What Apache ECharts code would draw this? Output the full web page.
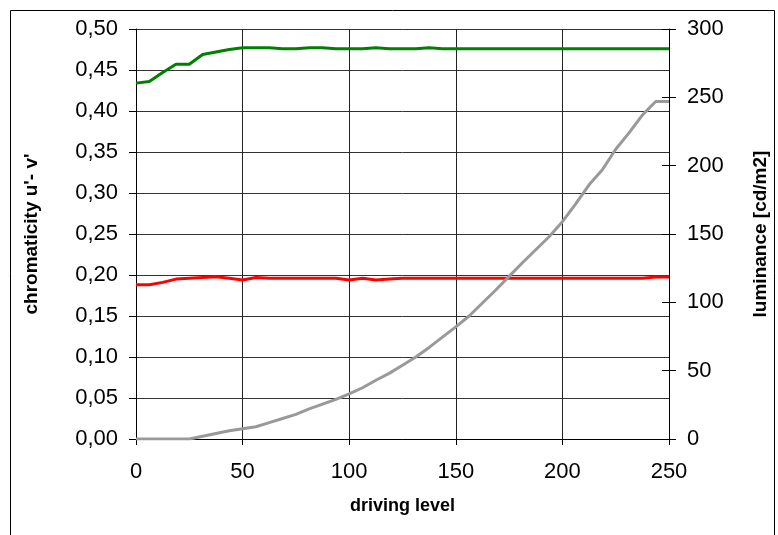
<!DOCTYPE html>
<html>
<head>
<meta charset="utf-8">
<script src="https://cdn.jsdelivr.net/npm/echarts@6/dist/echarts.min.js"></script>
<style>
html,body{margin:0;padding:0;background:#fff;}
#chart{width:778px;height:535px;}
</style>
</head>
<body>
<div id="chart"></div>
<script>
var drivingLevels = [0, 6.25, 12.5, 18.75, 25, 31.25, 37.5, 43.75, 50, 56.25, 62.5, 68.75, 75, 81.25, 87.5, 93.75, 100, 106.25, 112.5, 118.75, 125, 131.25, 137.5, 143.75, 150, 156.25, 162.5, 168.75, 175, 181.25, 187.5, 193.75, 200, 206.25, 212.5, 218.75, 225, 231.25, 237.5, 243.75, 250];
var chromaV = [0.434, 0.436, 0.447, 0.457, 0.457, 0.469, 0.472, 0.475, 0.477, 0.477, 0.477, 0.476, 0.476, 0.477, 0.477, 0.476, 0.476, 0.476, 0.477, 0.476, 0.476, 0.476, 0.477, 0.476, 0.476, 0.476, 0.476, 0.476, 0.476, 0.476, 0.476, 0.476, 0.476, 0.476, 0.476, 0.476, 0.476, 0.476, 0.476, 0.476, 0.476];
var chromaU = [0.188, 0.188, 0.191, 0.195, 0.196, 0.197, 0.198, 0.196, 0.194, 0.197, 0.196, 0.196, 0.196, 0.196, 0.196, 0.196, 0.194, 0.196, 0.194, 0.195, 0.196, 0.196, 0.196, 0.196, 0.196, 0.196, 0.196, 0.196, 0.196, 0.196, 0.196, 0.196, 0.196, 0.196, 0.196, 0.196, 0.196, 0.196, 0.196, 0.1975, 0.1975];
var luminance = [0, 0, 0, 0, 0, 2, 4, 6, 7.5, 9, 12, 15, 18, 22, 25.5, 29, 33, 37.5, 43, 48, 54, 60, 67, 74.5, 82, 90, 99.5, 109, 119, 129, 138.5, 148, 159, 172, 186, 197, 212, 224, 237, 247, 247];

var xTitle = 'driving level';
var yLeftTitle = "chromaticity u'- v'";
var yRightTitle = 'luminance [cd/m2]';

function pair(xs, ys){ return xs.map(function(x,i){ return [x, ys[i]]; }); }

var FONT = 'Liberation Sans, Arial, sans-serif';
var chart = echarts.init(document.getElementById('chart'));
chart.setOption({
  animation: false,
  backgroundColor: '#fff',
  graphic: [{
    type: 'rect', shape: {x: 10.5, y: 10.5, width: 764, height: 540},
    style: {fill: 'none', stroke: '#000', lineWidth: 1}, silent: true
  }],
  grid: {left: 136, right: 109, top: 29, bottom: 96},
  xAxis: {
    type: 'value', min: 0, max: 250, interval: 50,
    name: xTitle, nameLocation: 'middle', nameGap: 58,
    nameTextStyle: {fontFamily: FONT, fontWeight: 'bold', fontSize: 18, color: '#000'},
    axisLine: {show: true, lineStyle: {color: '#000', width: 1}},
    axisTick: {show: true, length: 6, lineStyle: {color: '#000'}},
    axisLabel: {fontFamily: FONT, fontSize: 22, color: '#000', margin: 22},
    splitLine: {show: true, lineStyle: {color: '#222', width: 1}}
  },
  yAxis: [{
    type: 'value', min: 0, max: 0.5, interval: 0.05, position: 'left',
    name: yLeftTitle, nameLocation: 'middle', nameGap: 95, nameRotate: 90,
    nameTextStyle: {fontFamily: FONT, fontWeight: 'bold', fontSize: 19, color: '#000'},
    axisLine: {show: true, lineStyle: {color: '#000', width: 1}},
    axisTick: {show: true, length: 7, lineStyle: {color: '#000'}},
    axisLabel: {fontFamily: FONT, fontSize: 22, color: '#000', margin: 18,
      formatter: function(v){ return v.toFixed(2).replace('.', ','); }},
    splitLine: {show: true, lineStyle: {color: '#333', width: 1}}
  }, {
    type: 'value', min: 0, max: 300, interval: 50, position: 'right',
    name: yRightTitle, nameLocation: 'middle', nameGap: 82, nameRotate: 90,
    nameTextStyle: {fontFamily: FONT, fontWeight: 'bold', fontSize: 19, color: '#000'},
    axisLine: {show: true, lineStyle: {color: '#000', width: 1}},
    axisTick: {show: true, length: 7, lineStyle: {color: '#000'}},
    axisLabel: {fontFamily: FONT, fontSize: 22, color: '#000', margin: 18},
    splitLine: {show: false}
  }, {
    type: 'value', min: 0, max: 300, interval: 50, position: 'right',
    axisLine: {show: false},
    axisTick: {show: true, inside: true, length: 7, lineStyle: {color: '#000'}},
    axisLabel: {show: false},
    splitLine: {show: false}
  }],
  series: [{
    type: 'line', name: "v'", yAxisIndex: 0, data: pair(drivingLevels, chromaV),
    showSymbol: false, lineStyle: {color: '#008000', width: 3}, itemStyle: {color: '#008000'}
  }, {
    type: 'line', name: "u'", yAxisIndex: 0, data: pair(drivingLevels, chromaU),
    showSymbol: false, lineStyle: {color: '#ff0000', width: 3}, itemStyle: {color: '#ff0000'}
  }, {
    type: 'line', name: 'luminance', yAxisIndex: 1, data: pair(drivingLevels, luminance),
    showSymbol: false, lineStyle: {color: '#999999', width: 3}, itemStyle: {color: '#999999'}
  }]
});
</script>
</body>
</html>
